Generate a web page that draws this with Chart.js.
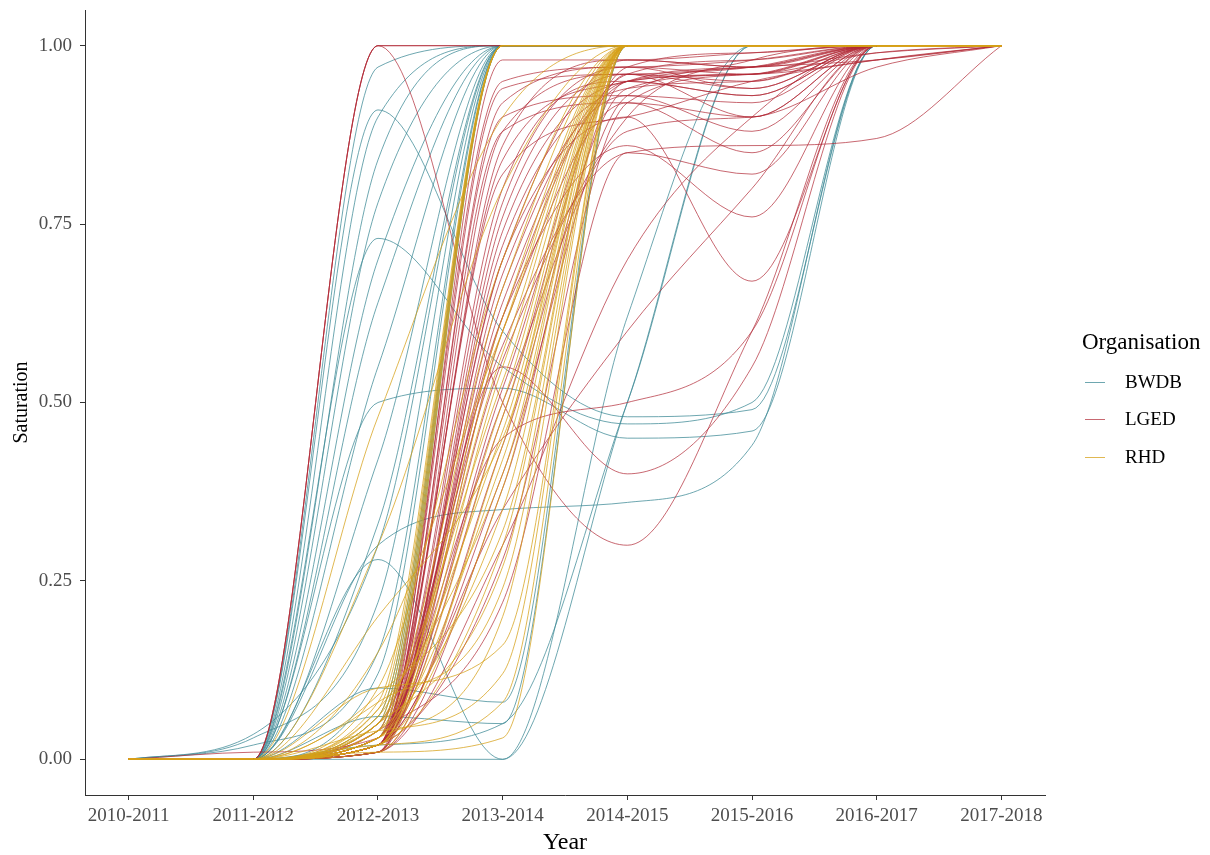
<!DOCTYPE html>
<html>
<head>
<meta charset="utf-8">
<title>Saturation by organisation</title>
<script src="https://cdn.jsdelivr.net/npm/chart.js@4.4.1/dist/chart.umd.min.js"></script>
<style>
  body { margin: 0; background: #fff; }
  #wrap { position: relative; width: 1210px; height: 855px; }
  #legend { font-family: "Liberation Serif", "Times New Roman", serif; color: #000; }
  #legend .ttl { position: absolute; left: 1082px; top: 329px; font-size: 23px; line-height: 26px; }
  #legend .key { position: absolute; left: 1085px; width: 20px; height: 0; border-top: 1px solid; }
  #legend .lab { position: absolute; left: 1125px; font-size: 19px; line-height: 20px; }
</style>
</head>
<body>
<div id="wrap">
  <canvas id="grafico" width="1210" height="855"></canvas>
  <div id="legend"></div>
</div>
<script>
const years = ["2010-2011", "2011-2012", "2012-2013", "2013-2014", "2014-2015", "2015-2016", "2016-2017", "2017-2018"];
const yTicks = [0, 0.25, 0.5, 0.75, 1];

// one row per project, one value per year
const bwdb = [
  [0, 0, 0.97, 1, 1, 1, 1, 1],
  [0, 0, 0.9, 1, 1, 1, 1, 1],
  [0, 0, 0.84, 1, 1, 1, 1, 1],
  [0, 0, 0.78, 1, 1, 1, 1, 1],
  [0, 0, 0.91, 0.6, 0.48, 0.49, 1, 1],
  [0, 0, 0.73, 0.55, 0.47, 0.5, 1, 1],
  [0, 0, 0.7, 1, 1, 1, 1, 1],
  [0, 0, 0.64, 1, 1, 1, 1, 1],
  [0, 0, 0.55, 1, 1, 1, 1, 1],
  [0, 0, 0.42, 1, 1, 1, 1, 1],
  [0, 0, 0.3, 0.35, 0.36, 0.44, 1, 1],
  [0, 0, 0.33, 1, 1, 1, 1, 1],
  [0, 0.035, 0.3, 1, 1, 1, 1, 1],
  [0, 0.03, 0.22, 1, 1, 1, 1, 1],
  [0, 0.02, 0.15, 1, 1, 1, 1, 1],
  [0, 0, 0.12, 1, 1, 1, 1, 1],
  [0, 0, 0.06, 1, 1, 1, 1, 1],
  [0, 0, 0.05, 1, 1, 1, 1, 1],
  [0, 0, 0.04, 1, 1, 1, 1, 1],
  [0, 0, 0.03, 1, 1, 1, 1, 1],
  [0, 0, 0.28, 0, 0.5, 1, 1, 1],
  [0, 0, 0, 0, 0.62, 1, 1, 1],
  [0, 0, 0.1, 0.08, 1, 1, 1, 1],
  [0, 0, 0.06, 0.05, 1, 1, 1, 1],
  [0, 0, 0.02, 0.05, 0.5, 1, 1, 1],
  [0, 0, 0.5, 0.52, 0.45, 0.46, 1, 1]
];

const lged = [
  [0, 0, 1, 1, 1, 1, 1, 1],
  [0, 0, 1, 1, 1, 1, 1, 1],
  [0, 0, 1, 0.5, 0.3, 0.6, 1, 1],
  [0, 0, 0.02, 0.98, 0.98, 0.99, 1, 1],
  [0, 0, 0.04, 0.95, 0.97, 0.98, 1, 1],
  [0, 0, 0.02, 0.92, 0.97, 0.96, 1, 1],
  [0, 0, 0.01, 0.88, 0.96, 0.95, 1, 1],
  [0, 0, 0.03, 0.84, 0.95, 0.97, 1, 1],
  [0, 0, 0.02, 0.8, 0.95, 0.93, 1, 1],
  [0, 0, 0.01, 0.76, 0.96, 0.9, 1, 1],
  [0, 0, 0.02, 0.72, 0.94, 0.95, 1, 1],
  [0, 0, 0.01, 0.68, 0.93, 0.88, 1, 1],
  [0, 0, 0.02, 0.64, 0.95, 0.97, 1, 1],
  [0, 0, 0.01, 0.6, 0.92, 0.85, 1, 1],
  [0, 0, 0.03, 0.56, 0.9, 0.98, 1, 1],
  [0, 0, 0.02, 0.52, 0.97, 0.99, 1, 1],
  [0, 0, 0.02, 0.48, 0.96, 0.94, 1, 1],
  [0, 0, 0.01, 0.44, 0.94, 0.96, 0.99, 1],
  [0, 0, 0.02, 0.4, 0.93, 0.97, 1, 1],
  [0, 0, 0.02, 0.7, 0.9, 0.67, 1, 1],
  [0, 0, 0.03, 0.62, 0.86, 0.76, 1, 1],
  [0, 0, 0.05, 0.58, 0.85, 0.86, 0.87, 1],
  [0, 0, 0.02, 0.5, 0.88, 0.9, 0.97, 1],
  [0, 0, 0.02, 0.66, 0.95, 0.96, 0.98, 1],
  [0, 0, 0.02, 0.55, 0.4, 0.55, 1, 1],
  [0, 0, 0.03, 0.45, 0.5, 0.6, 1, 1],
  [0, 0, 0.02, 0.35, 0.6, 0.8, 1, 1],
  [0, 0, 0.01, 0.3, 0.7, 0.9, 1, 1],
  [0, 0.01, 0.03, 0.82, 0.9, 0.95, 0.98, 1],
  [0, 0, 0.02, 0.9, 0.93, 0.92, 1, 1],
  [0, 0, 0.02, 0.86, 0.98, 0.97, 0.99, 1],
  [0, 0, 0.02, 0.78, 0.97, 0.94, 1, 1],
  [0, 0, 0.01, 0.74, 0.95, 0.96, 1, 1],
  [0, 0, 0.03, 0.7, 0.98, 0.97, 1, 1],
  [0, 0, 0.02, 0.62, 0.96, 0.98, 1, 1],
  [0, 0, 0.01, 0.38, 0.95, 0.93, 1, 1],
  [0, 0, 0.02, 0.28, 0.92, 0.96, 1, 1],
  [0, 0, 0.04, 0.22, 0.85, 0.82, 1, 1],
  [0, 0, 0.02, 0.88, 0.92, 0.9, 1, 1],
  [0, 0, 0.03, 0.94, 0.96, 0.97, 0.98, 1]
];

const rhd = [
  [0, 0, 0.04, 1, 1, 1, 1, 1],
  [0, 0, 0.06, 1, 1, 1, 1, 1],
  [0, 0, 0.08, 1, 1, 1, 1, 1],
  [0, 0, 0.05, 1, 1, 1, 1, 1],
  [0, 0, 0.07, 1, 1, 1, 1, 1],
  [0, 0, 0.03, 1, 1, 1, 1, 1],
  [0, 0, 0.48, 0.9, 1, 1, 1, 1],
  [0, 0, 0.3, 0.8, 1, 1, 1, 1],
  [0, 0, 0.1, 0.7, 1, 1, 1, 1],
  [0, 0, 0.05, 0.66, 1, 1, 1, 1],
  [0, 0, 0.03, 0.62, 1, 1, 1, 1],
  [0, 0, 0.02, 0.6, 1, 1, 1, 1],
  [0, 0, 0.04, 0.57, 1, 1, 1, 1],
  [0, 0, 0.02, 0.55, 1, 1, 1, 1],
  [0, 0, 0.06, 0.53, 1, 1, 1, 1],
  [0, 0, 0.03, 0.5, 1, 1, 1, 1],
  [0, 0, 0.02, 0.48, 1, 1, 1, 1],
  [0, 0, 0.05, 0.46, 1, 1, 1, 1],
  [0, 0, 0.01, 0.44, 1, 1, 1, 1],
  [0, 0, 0.03, 0.42, 1, 1, 1, 1],
  [0, 0, 0.07, 0.4, 1, 1, 1, 1],
  [0, 0, 0.02, 0.38, 1, 1, 1, 1],
  [0, 0, 0.04, 0.35, 1, 1, 1, 1],
  [0, 0, 0.09, 0.32, 1, 1, 1, 1],
  [0, 0, 0.02, 0.3, 1, 1, 1, 1],
  [0, 0, 0.05, 0.27, 1, 1, 1, 1],
  [0, 0, 0.08, 0.24, 1, 1, 1, 1],
  [0, 0, 0.03, 0.2, 1, 1, 1, 1],
  [0, 0, 0.1, 0.16, 1, 1, 1, 1],
  [0, 0, 0.04, 0.12, 1, 1, 1, 1],
  [0, 0, 0.02, 0.08, 1, 1, 1, 1],
  [0, 0, 0.01, 0.03, 1, 1, 1, 1],
  [0, 0, 0.2, 0.45, 1, 1, 1, 1],
  [0, 0, 0.15, 0.6, 1, 1, 1, 1]
];

const orgNames = ["BWDB", "LGED", "RHD"];
const orgColors = ["rgba(62, 138, 150, 0.75)", "rgba(176, 40, 52, 0.7)", "rgba(214, 160, 24, 0.75)"];
const serif = "'Liberation Serif', 'Times New Roman', serif";

function toSeries(rows, org) {
  const k = orgNames.indexOf(org);
  return rows.map((row, i) => ({
    label: org + " " + (i + 1),
    data: row.map((v, j) => ({ x: j, y: v })),
    borderColor: orgColors[k],
    borderWidth: 1,
    pointRadius: 0,
    fill: false,
    cubicInterpolationMode: "monotone"
  }));
}

// first dataset is painted last, so RHD sits on top like in ggplot
const datasets = [].concat(toSeries(rhd, "RHD"), toSeries(lged, "LGED"), toSeries(bwdb, "BWDB"));

const ctx = document.getElementById("grafico").getContext("2d");
new Chart(ctx, {
  type: "line",
  data: { datasets: datasets },
  options: {
    responsive: false,
    animation: false,
    devicePixelRatio: 1,
    events: [],
    layout: { padding: { left: 0, right: 165, top: 10, bottom: 0 } },
    plugins: { legend: { display: false }, tooltip: { enabled: false } },
    scales: {
      x: {
        type: "linear",
        min: -0.35,
        max: 7.35,
        afterBuildTicks: s => { s.ticks = years.map((_, i) => ({ value: i })); },
        afterFit: s => { s.height = 60; s.paddingLeft = 0; s.paddingRight = 0; },
        ticks: {
          callback: v => years[v],
          font: { family: serif, size: 19 },
          color: "#4d4d4d",
          padding: 5,
          maxRotation: 0,
          autoSkip: false
        },
        grid: { display: true, drawOnChartArea: false, drawTicks: true, tickLength: 5, color: "#333" },
        border: { display: true, color: "#333", width: 1 },
        title: { display: true, text: "Year", color: "#000", font: { family: serif, size: 24, lineHeight: 1 }, padding: { top: 0, bottom: 0 } }
      },
      y: {
        type: "linear",
        min: -0.05,
        max: 1.05,
        afterBuildTicks: s => { s.ticks = yTicks.map(v => ({ value: v })); },
        // ticks are well inside the range, so no extra room for half labels
        afterFit: s => { s.width = 85; s.paddingTop = 0; s.paddingBottom = 0; },
        ticks: {
          callback: v => Number(v).toFixed(2),
          font: { family: serif, size: 19 },
          color: "#4d4d4d",
          padding: 8
        },
        grid: { display: true, drawOnChartArea: false, drawTicks: true, tickLength: 5, color: "#333" },
        border: { display: true, color: "#333", width: 1 },
        title: { display: true, text: "Saturation", color: "#000", font: { family: serif, size: 20, lineHeight: 1 }, padding: { top: 12, bottom: 0 } }
      }
    }
  }
});

// legend on the right, like ggplot's guide
const legend = document.getElementById("legend");
let html = '<div class="ttl">Organisation</div>';
const keyY = [382, 419, 457];
orgNames.forEach((name, i) => {
  html += '<div class="key" style="top:' + keyY[i] + 'px;border-color:' + orgColors[i] + '"></div>';
  html += '<div class="lab" style="top:' + (keyY[i] - 10) + 'px">' + name + '</div>';
});
legend.innerHTML = html;
</script>
</body>
</html>
